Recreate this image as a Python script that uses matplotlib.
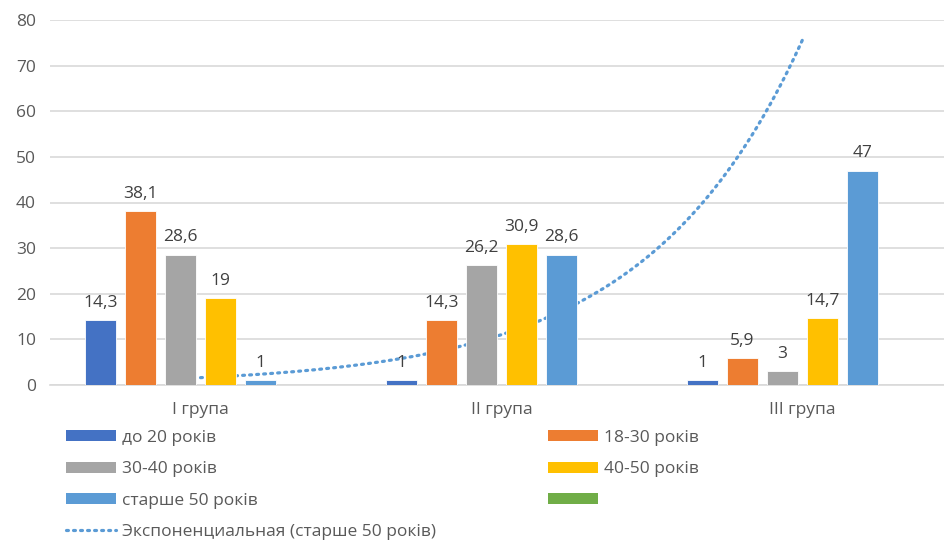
import numpy as np
import matplotlib
matplotlib.use('Agg')
import matplotlib.pyplot as plt
from matplotlib.patches import Patch
from matplotlib.lines import Line2D

plt.rcParams['font.family'] = ['Open Sans', 'DejaVu Sans']

groups = ['I група', 'II група', 'III група']
series_names = ['до 20 років', '18-30 років', '30-40 років', '40-50 років', 'старше 50 років', '']
values = [
    [14.3, 1, 1],          # до 20
    [38.1, 14.3, 5.9],     # 18-30
    [28.6, 26.2, 3],       # 30-40
    [19, 30.9, 14.7],      # 40-50
    [1, 28.6, 47],         # старше 50
    [np.nan, np.nan, np.nan],  # empty green series
]
colors = ['#4472C4', '#ED7D31', '#A5A5A5', '#FFC000', '#5B9BD5', '#70AD47']
trend_label = 'Экспоненциальная (старше 50 років)'

W, H = 944, 544
fs = 12.5
fig = plt.figure(figsize=(W / 100, H / 100), dpi=100)
cat_px = 301
ax_left, ax_right = 50, 944
ax_bottom, ax_top = 544 - 385, 544 - 20
ax = fig.add_axes([ax_left / W, ax_bottom / H, (ax_right - ax_left) / W, (ax_top - ax_bottom) / H])

x = np.arange(1, len(groups) + 1)
slot = 40 / cat_px
bw = 31 / cat_px
n = len(series_names)

# exponential trendline for "старше 50 років"
older = np.array(values[4])
b, a = np.polyfit(x, np.log(older), 1)
xt = np.linspace(1, 3, 200)
ax.plot(xt, np.exp(a + b * xt), color='#5B9BD5', lw=2.3,
        linestyle=(0, (0.6, 1.6)), dash_capstyle='round', zorder=2)

for i, (vals, c) in enumerate(zip(values, colors)):
    pos = x + (i - (n - 1) / 2) * slot
    ax.bar(pos, vals, width=bw, color=c, edgecolor='white', linewidth=0.6, zorder=3)
    for xp, v in zip(pos, vals):
        if np.isnan(v):
            continue
        ax.text(xp, v + 2.0, f'{v:g}'.replace('.', ','), ha='center', va='bottom',
                fontsize=fs, color='#404040', zorder=4)

ax.set_ylim(0, 80)
ax.set_xlim(0.5, 0.5 + (ax_right - ax_left) / cat_px)
ax.set_yticks(range(0, 81, 10))
ax.set_xticks(x)
ax.set_xticklabels(groups)
ax.tick_params(axis='both', length=0, labelsize=fs, colors='#595959')
ax.tick_params(axis='x', pad=12)
ax.tick_params(axis='y', pad=10)
ax.yaxis.grid(True, color='#D9D9D9', lw=1.2)
ax.set_axisbelow(True)
for s in ['top', 'right', 'left']:
    ax.spines[s].set_visible(False)
ax.spines['bottom'].set_color('#D9D9D9')
ax.spines['bottom'].set_linewidth(1.2)

# legend, two blocks
h = [Patch(facecolor=c) for c in colors]
trend_h = Line2D([0], [0], color='#5B9BD5', lw=2.3, linestyle=(0, (0.6, 1.6)), dash_capstyle='round')
leg_kw = dict(frameon=False, fontsize=fs, handlelength=2.9, handleheight=0.6,
              handletextpad=0.3, labelspacing=0.88, borderpad=0, borderaxespad=0,
              labelcolor='#595959')
fig.legend([h[0], h[2], h[4], trend_h], [series_names[0], series_names[2], series_names[4], trend_label],
           loc='upper left', bbox_to_anchor=(66 / W, 1 - 430 / H), **leg_kw)
fig.legend([h[1], h[3], h[5]], [series_names[1], series_names[3], series_names[5]],
           loc='upper left', bbox_to_anchor=(548 / W, 1 - 430 / H), **leg_kw)

fig.savefig('out.png', dpi=100, facecolor='white')
